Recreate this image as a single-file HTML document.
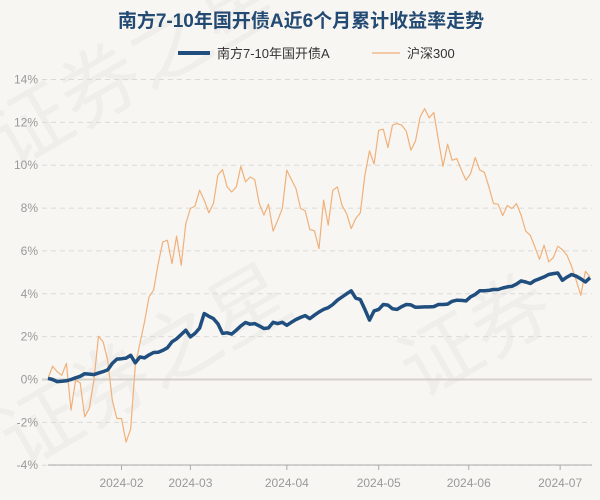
<!DOCTYPE html>
<html><head><meta charset="utf-8"><style>
body{margin:0;background:#f8f6f2;}
svg{display:block;font-family:"Liberation Sans","Noto Sans CJK SC",sans-serif;}
</style></head><body>
<svg width="600" height="500" viewBox="0 0 600 500">
<rect width="600" height="500" fill="#f8f6f2"/>
<g fill="#000" opacity="0.035" font-size="80">
<text x="10" y="170" transform="rotate(-30 10 170)">证券之星</text>
<text x="20" y="470" transform="rotate(-30 20 470)">证券之星</text>
<text x="420" y="400" transform="rotate(-30 420 400)">证券</text>
</g>
<text x="301" y="27" text-anchor="middle" font-size="19" font-weight="bold" fill="#234a73">南方7-10年国开债A近6个月累计收益率走势</text>
<g>
<line x1="178" y1="53" x2="210" y2="53" stroke="#1f4e7f" stroke-width="4"/>
<text x="217" y="58" font-size="13" fill="#333">南方7-10年国开债A</text>
</g>
<g>
<line x1="372" y1="53" x2="400" y2="53" stroke="#f0b07a" stroke-width="1.2"/>
<text x="407" y="58" font-size="13" fill="#333">沪深300</text>
</g>
<g id="grid"></g>
<g id="axes"></g>
<g id="series"></g>
</svg>
<script>
const yTicks=[14,12,10,8,6,4,2,0,-2,-4];
const xTickLabels=["2024-02","2024-03","2024-04","2024-05","2024-06","2024-07"];
const xTickIndex=[16,31,52,72,91.6,111.5];
const hs300=[0.05,0.62,0.36,0.2,0.75,-1.43,-0.03,-0.16,-1.74,-1.35,-0.03,2.02,1.76,0.9,-0.97,-1.82,-1.82,-2.92,-2.3,0.67,1.68,2.69,3.86,4.17,5.41,6.42,6.5,5.41,6.69,5.33,7.28,7.98,8.09,8.83,8.37,7.78,8.21,9.54,9.8,8.99,8.75,8.99,9.95,9.22,9.45,9.33,8.21,7.67,8.18,6.92,7.43,7.98,9.77,9.33,8.91,7.98,7.87,7.0,6.94,6.11,
8.37,7.2,8.83,8.99,8.13,7.74,7.04,7.51,7.78,9.54,10.67,10.05,11.63,11.68,10.82,11.87,11.94,11.87,11.59,10.7,11.13,12.25,12.64,12.21,12.46,11.17,9.95,10.98,10.23,10.31,9.77,9.3,9.61,10.36,9.77,9.67,8.99,8.21,8.18,7.65,8.12,7.98,8.21,7.67,6.93,6.73,6.19,5.61,6.27,5.49,5.69,6.22,6.06,5.8,5.28,4.63,3.93,5.05,4.79];
const fund=[0.05,0.0,-0.1,-0.08,-0.06,0.0,0.08,0.15,0.27,0.25,0.23,0.3,0.37,0.45,0.75,0.95,0.97,1.0,1.13,0.78,1.05,1.01,1.15,1.26,1.27,1.36,1.48,1.76,1.9,2.1,2.3,1.99,2.15,2.4,3.08,2.95,2.84,2.6,2.15,2.18,2.12,2.3,2.5,2.66,2.58,2.61,2.5,2.38,2.41,2.67,2.61,2.67,2.53,2.67,2.8,2.9,2.98,2.84,3.0,3.15,
3.27,3.35,3.5,3.7,3.85,4.0,4.14,3.8,3.73,3.27,2.77,3.2,3.27,3.5,3.47,3.3,3.27,3.4,3.5,3.48,3.37,3.38,3.39,3.39,3.4,3.5,3.5,3.52,3.65,3.7,3.69,3.67,3.86,3.97,4.14,4.14,4.16,4.2,4.2,4.27,4.32,4.35,4.45,4.6,4.55,4.48,4.62,4.7,4.79,4.9,4.94,4.97,4.63,4.78,4.9,4.82,4.7,4.55,4.75];
const NS="http://www.w3.org/2000/svg";
const X0=48,X1=590,Y14=79.5,Y0=379.5;
const n=hs300.length;
function xS(i){return X0+i*(X1-X0)/(n-1);}
function yS(v){return Y0-(v)*(Y0-Y14)/14;}
function mk(tag,attrs,parent){const e=document.createElementNS(NS,tag);for(const k in attrs)e.setAttribute(k,attrs[k]);parent.appendChild(e);return e;}
const grid=document.getElementById('grid'),axes=document.getElementById('axes'),ser=document.getElementById('series');
yTicks.forEach(t=>{
  const y=yS(t);
  const l=mk('line',{x1:42,x2:592,y1:y,y2:y,stroke:t===0?'#d4d1cc':'#dcdad6','stroke-width':t===0?2:1,'stroke-dasharray':t===0?'':'5,4'},grid);
  
  
  const tx=mk('text',{x:38,y:y+4,'text-anchor':'end','font-size':12,fill:'#999'},axes);
  tx.textContent=t+'%';
  
  
});
const ax=mk('line',{x1:48,x2:592,y1:465,y2:465,stroke:'#aaa','stroke-width':1},axes);


xTickLabels.forEach((lb,k)=>{
  const x=xS(xTickIndex[k]);
  const tk=mk('line',{x1:x,x2:x,y1:465,y2:470,stroke:'#aaa'},axes);
  
  
  const tx=mk('text',{x:x,y:487,'text-anchor':'middle','font-size':12,fill:'#999'},axes);
  tx.textContent=lb;
  
  
});
function path(arr){return arr.map((v,i)=>(i?'L':'M')+xS(i).toFixed(1)+','+yS(v).toFixed(1)).join('');}
const p1=mk('path',{d:path(hs300),fill:'none',stroke:'#f0b07a','stroke-width':1.2,'stroke-linejoin':'round'},ser);


const p2=mk('path',{d:path(fund),fill:'none',stroke:'#1f4e7f','stroke-width':3.5,'stroke-linejoin':'round'},ser);


</script>
</body></html>
